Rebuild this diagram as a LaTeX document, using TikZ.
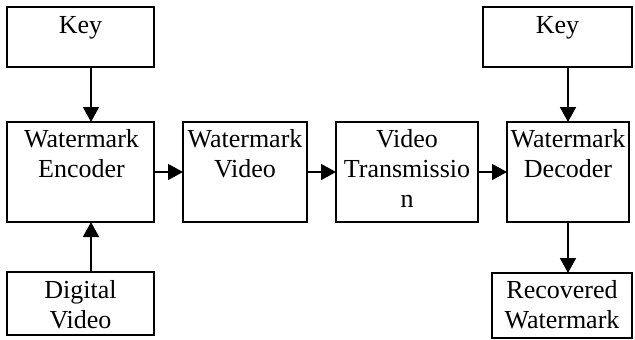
\documentclass[tikz,border=0pt]{standalone}
\usepackage{fontspec}
\setmainfont{Liberation Serif}
\usetikzlibrary{arrows.meta}

% two centred lines whose baseline is that of the first line
\newcommand{\twolines}[2]{\begin{tabular}[t]{@{}c@{}}#1\\#2\end{tabular}}
\newcommand{\threelines}[3]{\begin{tabular}[t]{@{}c@{}}#1\\#2\\#3\end{tabular}}

\begin{document}
\begin{tikzpicture}[x=1pt, y=-1pt,
  font=\fontsize{26}{30}\selectfont,
  blk/.style={draw, line width=1.6pt, inner sep=0pt, outer sep=0pt},
  lbl/.style={inner sep=0pt, anchor=base},
  arr/.style={line width=1.6pt, -{Triangle[length=15pt, width=16pt]}}]

\useasboundingbox (0,0) rectangle (635,340);

% blocks
\node[blk, minimum width=147pt, minimum height=60pt]  (key1) at (80.5,37)    {};
\node[blk, minimum width=147pt, minimum height=100pt] (enc)  at (80.5,172)   {};
\node[blk, minimum width=147pt, minimum height=63pt]  (dig)  at (80.5,303.5) {};
\node[blk, minimum width=124pt, minimum height=100pt] (wv)   at (245,172)    {};
\node[blk, minimum width=142pt, minimum height=100pt] (vt)   at (407,172)    {};
\node[blk, minimum width=122pt, minimum height=100pt] (dec)  at (568,172)    {};
\node[blk, minimum width=149pt, minimum height=60pt]  (key2) at (557.5,37)   {};
\node[blk, minimum width=140pt, minimum height=65pt]  (rec)  at (562,305.5)  {};

% block texts, set from the top of each block
\node[lbl] (key1t) at (80.5,33)  {Key};
\node[lbl] (enct)  at (81.5,147) {\twolines{Watermark}{Encoder}};
\node[lbl] (digt)  at (80.5,298) {\twolines{Digital}{Video}};
\node[lbl] (wvt)   at (245,147)  {\twolines{Watermark}{Video}};
\node[lbl] (vtt)   at (407,147)  {\threelines{Video}{Transmissio}{n}};
\node[lbl] (dect)  at (568,147)  {\twolines{Watermark}{Decoder}};
\node[lbl] (key2t) at (557.5,33) {Key};
\node[lbl] (rect)  at (562,298)  {\twolines{Recovered}{Watermark}};

% connectors
\coordinate (lx) at (91,0);
\draw[arr] (key1.south -| lx) -- (enc.north -| lx);
\draw[arr] (dig.north -| lx) -- (enc.south -| lx);
\draw[arr] (enc.east) -- (wv.west);
\draw[arr] (wv.east) -- (vt.west);
\draw[arr] (vt.east) -- (dec.west);
\draw[arr] (key2.south -| dec.north) -- (dec.north);
\draw[arr] (dec.south) -- (rec.north -| dec.south);
\end{tikzpicture}
\end{document}
